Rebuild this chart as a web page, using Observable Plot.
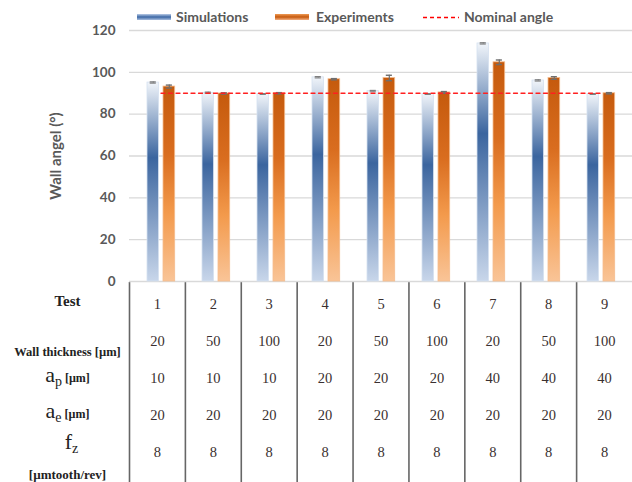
<!DOCTYPE html>
<html><head><meta charset="utf-8">
<script src="https://cdn.jsdelivr.net/npm/d3@7"></script>
<script src="https://cdn.jsdelivr.net/npm/@observablehq/plot@0.6"></script>
<style>
body{margin:0;background:#fff;}
#wrap{position:relative;width:632px;height:482px;overflow:hidden;background:#fff;}
#wrap svg{display:block;}
#chart{position:absolute;left:0;top:0;z-index:2;}
#table{position:absolute;left:0;top:282px;z-index:1;}
.lg{position:absolute;font-family:Lato,sans-serif;font-size:14px;font-weight:700;color:#595959;line-height:18px;top:8px;white-space:nowrap;z-index:3;}
.sw{position:absolute;top:14px;height:6px;width:34px;z-index:3;}
</style></head><body>
<div id="wrap"><div id="chart"></div><div id="table"></div>
<div class="sw" style="left:137px;background:linear-gradient(#b9cbe6,#3c68a5 50%,#a9bedf);"></div>
<div class="lg" style="left:176px;">Simulations</div>
<div class="sw" style="left:275px;background:linear-gradient(#ee9a55,#c65a0e 50%,#f4b183);"></div>
<div class="lg" style="left:316px;">Experiments</div>
<svg style="position:absolute;left:423px;top:16px;z-index:3;" width="36" height="3"><line x1="0" y1="1.5" x2="36" y2="1.5" stroke="#ff0000" stroke-width="1.3" stroke-dasharray="4 3"/></svg>
<div class="lg" style="left:464px;">Nominal angle</div>
</div>
<script>
const tests = [1, 2, 3, 4, 5, 6, 7, 8, 9];
const simulations = [95.1, 90.2, 89.6, 97.6, 91.0, 89.6, 113.8, 96.1, 89.6];
const simErrors = [0.3, 0.3, 0.2, 0.3, 0.3, 0.2, 0.3, 0.3, 0.2];
const experiments = [93.2, 89.9, 90.0, 96.7, 97.3, 90.4, 104.8, 97.3, 90.0];
const expErrors = [0.7, 0.3, 0.3, 0.3, 1.3, 0.4, 1.1, 0.6, 0.3];
const nominalAngle = 90;
const yTicks = [0, 20, 40, 60, 80, 100, 120];
const wallThickness = [20, 50, 100, 20, 50, 100, 20, 50, 100];
const apValues = [10, 10, 10, 20, 20, 20, 40, 40, 40];
const aeValues = [20, 20, 20, 20, 20, 20, 20, 20, 20];
const fzValues = [8, 8, 8, 8, 8, 8, 8, 8, 8];
const rowKeys = ["Test", "Wall", "ap", "ae", "fz"];
const rowLabels = ["Test", "Wall thickness [µm]", "ap [µm]", "ae [µm]", "fz [µmtooth/rev]"];

const sim = tests.map((t, i) => ({test: t, value: simulations[i], lo: simulations[i] - simErrors[i], hi: simulations[i] + simErrors[i]}));
const exp = tests.map((t, i) => ({test: t, value: experiments[i], lo: experiments[i] - expErrors[i], hi: experiments[i] + expErrors[i]}));

const chart = Plot.plot({
  width: 632, height: 282, marginTop: 30, marginBottom: 1, marginLeft: 129, marginRight: 0,
  style: {fontFamily: "Lato, sans-serif", fontSize: "13.5px", color: "#595959", background: "transparent", overflow: "visible"},
  x: {type: "band", domain: tests, padding: 0, axis: null},
  y: {domain: [0, 120]},
  marks: [
    Plot.ruleY(yTicks, {stroke: "#d9d9d9", strokeWidth: 1.3}),
    Plot.axisY({ticks: yTicks, tickSize: 0, tickPadding: 14, fontWeight: "bold", label: "Wall angel (°)", labelAnchor: "center", labelArrow: "none", labelOffset: 79}),
    Plot.barY(sim, {x: "test", y: "value", fill: "url(#gSim)", stroke: "#d5e0ef", strokeWidth: 0.8, insetLeft: 14, insetRight: 29.5}),
    Plot.barY(exp, {x: "test", y: "value", fill: "url(#gExp)", stroke: "#f6bd8f", strokeWidth: 0.8, insetLeft: 30, insetRight: 13.3}),
    Plot.ruleX(sim, {x: "test", y1: "lo", y2: "hi", stroke: "#7f7f7f", strokeWidth: 1.2, dx: -7.7}),
    Plot.tickY(sim, {x: "test", y: "hi", stroke: "#7f7f7f", strokeWidth: 1.4, insetLeft: 16.7, insetRight: 32.2}),
    Plot.tickY(sim, {x: "test", y: "lo", stroke: "#7f7f7f", strokeWidth: 1, insetLeft: 16.7, insetRight: 32.2}),
    Plot.ruleX(exp, {x: "test", y1: "lo", y2: "hi", stroke: "#6f6f6f", strokeWidth: 1.2, dx: 8.3}),
    Plot.tickY(exp, {x: "test", y: "hi", stroke: "#6f6f6f", strokeWidth: 1.4, insetLeft: 32.8, insetRight: 16.1}),
    Plot.tickY(exp, {x: "test", y: "lo", stroke: "#6f6f6f", strokeWidth: 1.4, insetLeft: 32.8, insetRight: 16.1}),
    Plot.lineY(tests, {x: d => d, y: () => nominalAngle, stroke: "#ff2020", strokeWidth: 1.3, strokeDasharray: "4 3.5"})
  ]
});
d3.select(chart).selectAll("text").filter(function () { return this.textContent === "Wall angel (°)"; })
  .attr("font-weight", "bold").attr("font-size", "15px");
const defs = d3.select(chart).insert("defs", ":first-child");
const gs = defs.append("linearGradient").attr("id", "gSim").attr("x1", 0).attr("y1", 0).attr("x2", 0).attr("y2", 1);
[[0, "#f1f5fa"], [0.38, "#3b659f"], [1, "#c8d6ea"]].forEach(([o, c]) => gs.append("stop").attr("offset", o).attr("stop-color", c));
const ge = defs.append("linearGradient").attr("id", "gExp").attr("x1", 0).attr("y1", 0).attr("x2", 0).attr("y2", 1);
[[0, "#c55a0d"], [0.35, "#d96d1f"], [0.65, "#f39a4c"], [1, "#f9c497"]].forEach(([o, c]) => ge.append("stop").attr("offset", o).attr("stop-color", c));
document.getElementById("chart").appendChild(chart);

const cells = [];
tests.forEach((t, i) => {
  cells.push({test: t, row: "Test", v: t});
  cells.push({test: t, row: "Wall", v: wallThickness[i]});
  cells.push({test: t, row: "ap", v: apValues[i]});
  cells.push({test: t, row: "ae", v: aeValues[i]});
  cells.push({test: t, row: "fz", v: fzValues[i]});
});
const labels = rowKeys.map((k, i) => ({row: k, label: rowLabels[i]}));

const table = Plot.plot({
  width: 632, height: 200, marginTop: 0, marginBottom: 0, marginLeft: 129, marginRight: 0,
  style: {fontFamily: "'Liberation Serif', serif", fontSize: "14.5px", color: "#333", background: "transparent", overflow: "visible"},
  x: {type: "linear", domain: [tests[0] - 0.5, tests[tests.length - 1] + 0.5], axis: null},
  y: {type: "point", domain: rowKeys, range: [20, 171], padding: 0, axis: null},
  marks: [
    Plot.ruleX(tests.map(t => t - 0.5), {x: d => d, stroke: "#666", strokeWidth: 1.6}),
    Plot.text(cells, {x: "test", y: "row", text: "v", fill: "#3a3030"}),
    Plot.text(labels, {y: "row", text: "label", frameAnchor: "left", dx: -62, textAnchor: "middle", fill: "#222"})
  ]
});
d3.select(table).selectAll("text").each(function () {
  const i = rowLabels.indexOf(this.textContent);
  if (i < 0) return;
  const t = d3.select(this);
  const key = rowKeys[i];
  t.text(null);
  if (key === "Test") {
    t.attr("font-weight", "bold").attr("font-size", "15px").attr("dy", "-0.25em").text(rowLabels[i]);
  } else if (key === "Wall") {
    t.attr("font-weight", "bold").attr("font-size", "12.5px").attr("dy", "0.85em").text(rowLabels[i]);
  } else if (key === "ap" || key === "ae") {
    t.attr("dy", key === "ap" ? "-0.05em" : "-0.15em");
    t.append("tspan").attr("font-size", "22px").text("a");
    t.append("tspan").attr("font-size", "14px").attr("dy", "4").text(key.slice(1));
    t.append("tspan").attr("font-size", "12px").attr("font-weight", "bold").attr("dy", "-4").text(" [µm]");
  } else {
    t.attr("dy", "-0.55em").attr("dx", "4");
    t.append("tspan").attr("font-size", "22px").text("f");
    t.append("tspan").attr("font-size", "14px").attr("dy", "4").text("z");
    const p = d3.select(this.parentNode).append("text")
      .attr("text-anchor", "middle").attr("font-weight", "bold").attr("font-size", "13px")
      .attr("fill", "#222").attr("dy", "1.75em").text("[µmtooth/rev]");
    ["transform", "x", "y"].forEach(a => { if (t.attr(a) != null) p.attr(a, t.attr(a)); });
  }
});
document.getElementById("table").appendChild(table);
</script>
</body></html>
